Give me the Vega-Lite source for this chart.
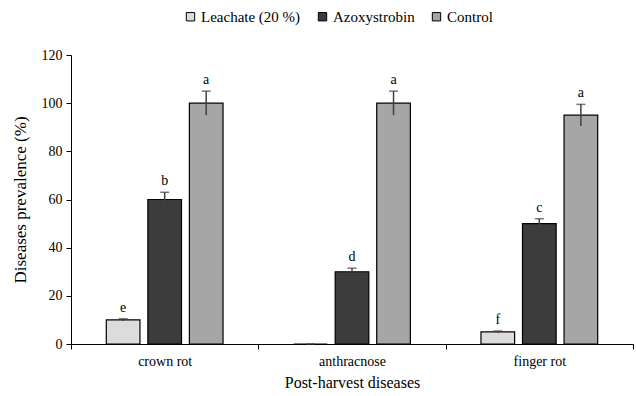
{
  "$schema": "https://vega.github.io/schema/vega-lite/v6.json",
  "width": 562,
  "height": 289,
  "autosize": {"type": "none"},
  "padding": {"left": 71, "top": 55, "right": 3, "bottom": 52},
  "background": "white",
  "config": {
    "view": {"stroke": null},
    "font": "Liberation Serif",
    "axis": {"labelColor": "black", "titleColor": "black", "domainColor": "black", "tickColor": "black", "grid": false, "titleFontWeight": "normal"}
  },
  "data": {
    "values": [
      {"disease": "crown rot", "treatment": "Leachate (20 %)", "value": 10, "lo": 9.5, "hi": 10.5, "letter": "e"},
      {"disease": "crown rot", "treatment": "Azoxystrobin", "value": 60, "lo": 57, "hi": 63, "letter": "b"},
      {"disease": "crown rot", "treatment": "Control", "value": 100, "lo": 95, "hi": 105, "letter": "a"},
      {"disease": "anthracnose", "treatment": "Leachate (20 %)", "value": 0, "lo": 0, "hi": 0, "letter": ""},
      {"disease": "anthracnose", "treatment": "Azoxystrobin", "value": 30, "lo": 28.5, "hi": 31.5, "letter": "d"},
      {"disease": "anthracnose", "treatment": "Control", "value": 100, "lo": 95, "hi": 105, "letter": "a"},
      {"disease": "finger rot", "treatment": "Leachate (20 %)", "value": 5, "lo": 4.6, "hi": 5.4, "letter": "f"},
      {"disease": "finger rot", "treatment": "Azoxystrobin", "value": 50, "lo": 48, "hi": 52, "letter": "c"},
      {"disease": "finger rot", "treatment": "Control", "value": 95, "lo": 90.5, "hi": 99.5, "letter": "a"}
    ]
  },
  "encoding": {
    "x": {
      "field": "disease", "type": "nominal", "sort": ["crown rot", "anthracnose", "finger rot"],
      "scale": {"paddingInner": 0, "paddingOuter": 0},
      "axis": {"title": "Post-harvest diseases", "titleFont": "Liberation Serif", "labelFont": "Liberation Serif", "titleFontSize": 16, "labelFontSize": 14, "labelAngle": 0, "tickBand": "extent", "tickSize": 5, "labelPadding": 5, "titlePadding": 6}
    },
    "xOffset": {
      "field": "treatment", "type": "nominal", "sort": ["Leachate (20 %)", "Azoxystrobin", "Control"],
      "scale": {"paddingInner": 0.19, "paddingOuter": 0.85}
    }
  },
  "layer": [
    {
      "mark": {"type": "bar", "stroke": "black", "strokeWidth": 1.2},
      "encoding": {
        "y": {
          "field": "value", "type": "quantitative",
          "scale": {"domain": [0, 120]},
          "axis": {"title": "Diseases prevalence (%)", "titleFont": "Liberation Serif", "labelFont": "Liberation Serif", "titleFontSize": 17, "labelFontSize": 14, "values": [0, 20, 40, 60, 80, 100, 120], "tickSize": 5, "labelPadding": 4, "titlePadding": 12}
        },
        "fill": {
          "field": "treatment", "type": "nominal", "sort": ["Leachate (20 %)", "Azoxystrobin", "Control"],
          "scale": {"domain": ["Leachate (20 %)", "Azoxystrobin", "Control"], "range": ["#dcdcdc", "#3c3c3c", "#a6a6a6"]},
          "legend": {"title": null, "orient": "none", "direction": "horizontal", "legendX": 112, "legendY": -46, "symbolType": "square", "symbolSize": 70, "symbolStrokeColor": "black", "symbolStrokeWidth": 1, "labelFont": "Liberation Serif", "labelFontSize": 15, "labelColor": "black", "columnPadding": 14, "symbolOffset": 0, "labelOffset": 3}
        }
      }
    },
    {
      "mark": {"type": "rule", "color": "#404040", "strokeWidth": 1.5},
      "encoding": {"y": {"field": "lo", "type": "quantitative"}, "y2": {"field": "hi"}}
    },
    {
      "mark": {"type": "tick", "color": "#404040", "thickness": 1.5, "size": 9},
      "encoding": {"y": {"field": "hi", "type": "quantitative"}}
    },
    {
      "mark": {"type": "text", "baseline": "bottom", "dy": -4, "fontSize": 14, "font": "Liberation Serif", "color": "black"},
      "encoding": {"y": {"field": "hi", "type": "quantitative"}, "text": {"field": "letter"}}
    }
  ]
}
